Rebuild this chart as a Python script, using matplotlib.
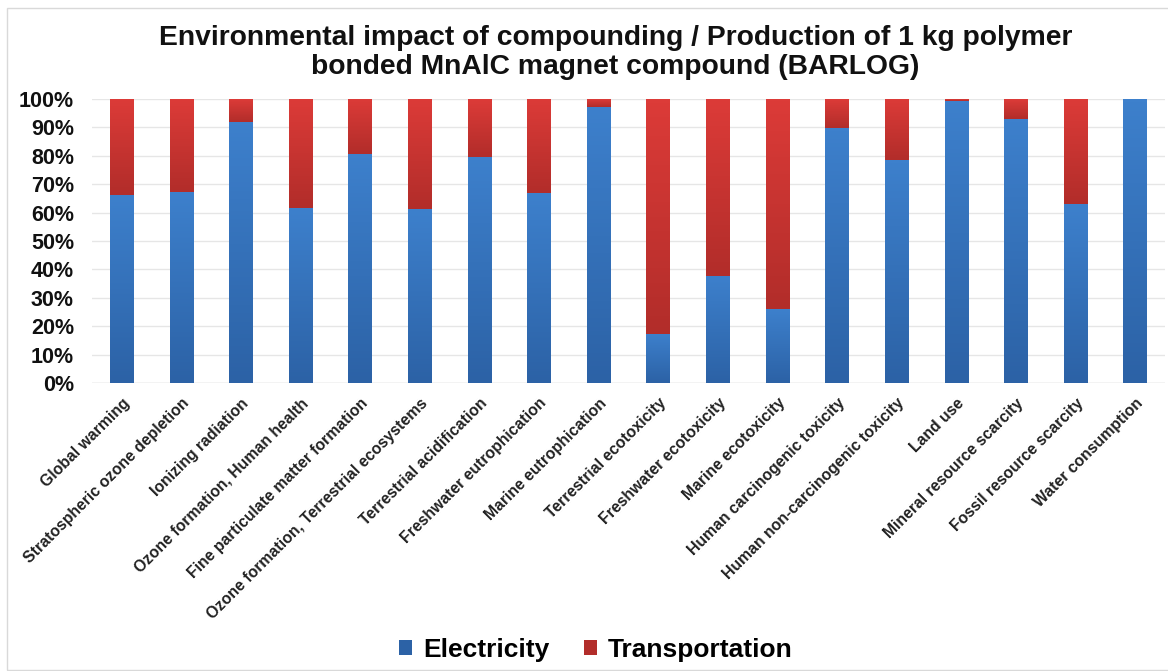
import numpy as np
import matplotlib
matplotlib.use("Agg")
import matplotlib.pyplot as plt
from matplotlib.colors import LinearSegmentedColormap
from matplotlib.patches import Rectangle

plt.rcParams['font.family'] = ['Liberation Sans', 'DejaVu Sans']

categories = [
    "Global warming", "Stratospheric ozone depletion", "Ionizing radiation",
    "Ozone formation, Human health", "Fine particulate matter formation",
    "Ozone formation, Terrestrial ecosystems", "Terrestrial acidification",
    "Freshwater eutrophication", "Marine eutrophication", "Terrestrial ecotoxicity",
    "Freshwater ecotoxicity", "Marine ecotoxicity", "Human carcinogenic toxicity",
    "Human non-carcinogenic toxicity", "Land use", "Mineral resource scarcity",
    "Fossil resource scarcity", "Water consumption",
]
electricity = [66.2, 67.4, 92.0, 61.5, 80.6, 61.2, 79.7, 66.8, 97.3,
               17.3, 37.7, 25.9, 89.9, 78.5, 99.4, 93.0, 62.9, 100.0]
transportation = [100.0 - v for v in electricity]

title_lines = ["Environmental impact of compounding / Production of 1 kg polymer",
               "bonded MnAlC magnet compound (BARLOG)"]

blue_top, blue_bot = "#3d80cc", "#2c62a6"
red_top, red_bot = "#dc3b38", "#b22d2a"

fig = plt.figure(figsize=(11.68, 6.71), dpi=100)
ax = fig.add_axes([0.0788, 0.4292, 0.9187, 0.4233])

x = np.arange(len(categories))
b1 = ax.bar(x, electricity, width=0.40, color=blue_bot, label="Electricity", zorder=2)
b2 = ax.bar(x, transportation, width=0.40, bottom=electricity, color=red_bot,
            label="Transportation", zorder=2)

# vertical shading inside every bar segment, clipped to the patch
def shade(bars, top, bot):
    cmap = LinearSegmentedColormap.from_list("g", [bot, top])
    grad = np.linspace(0, 1, 64).reshape(-1, 1)
    for p in bars:
        x0, y0 = p.get_x(), p.get_y()
        w, h = p.get_width(), p.get_height()
        if h <= 0:
            continue
        im = ax.imshow(grad, cmap=cmap, aspect='auto', origin='lower',
                       extent=[x0, x0 + w, y0, y0 + h], zorder=2.5)
        im.set_clip_path(p)

shade(b1, blue_top, blue_bot)
shade(b2, red_top, red_bot)

ax.set_xlim(-0.5, len(categories) - 0.5)
ax.set_ylim(0, 100)
ax.set_yticks(np.arange(0, 101, 10))
ax.set_yticklabels([f"{v}%" for v in range(0, 101, 10)], fontsize=15.5, fontweight='bold',
                   color='#111111')
ax.set_xticks(x)
ax.set_xticklabels(categories, rotation=45, ha='right', rotation_mode='anchor',
                   fontsize=11.3, fontweight='bold', color='#222222')
ax.tick_params(axis='both', length=0)
ax.tick_params(axis='x', pad=9)
ax.tick_params(axis='y', pad=13)
ax.grid(axis='y', color='#e6e6e6', linewidth=1, zorder=0)
for s in ax.spines.values():
    s.set_visible(False)
ax.axhline(0, color='#d9d9d9', linewidth=1, zorder=1)

fig.text(0.527, 1 - 38 / 671, title_lines[0], ha='center', va='center',
         fontsize=20.3, fontweight='bold', color='#111111')
fig.text(0.527, 1 - 67 / 671, title_lines[1], ha='center', va='center',
         fontsize=20.3, fontweight='bold', color='#111111')

fig.legend(handles=[b1, b2], loc='center', bbox_to_anchor=(0.51, 0.031), ncol=2,
           frameon=False, prop={'weight': 'bold', 'size': 19},
           handlelength=0.5, handleheight=0.5, handletextpad=0.4, columnspacing=1.3)

fig.patches.append(Rectangle((0.006, 0.002), 1.1, 0.986, transform=fig.transFigure,
                             fill=False, edgecolor='#d9d9d9', linewidth=1))

fig.savefig("out.png", dpi=100)
